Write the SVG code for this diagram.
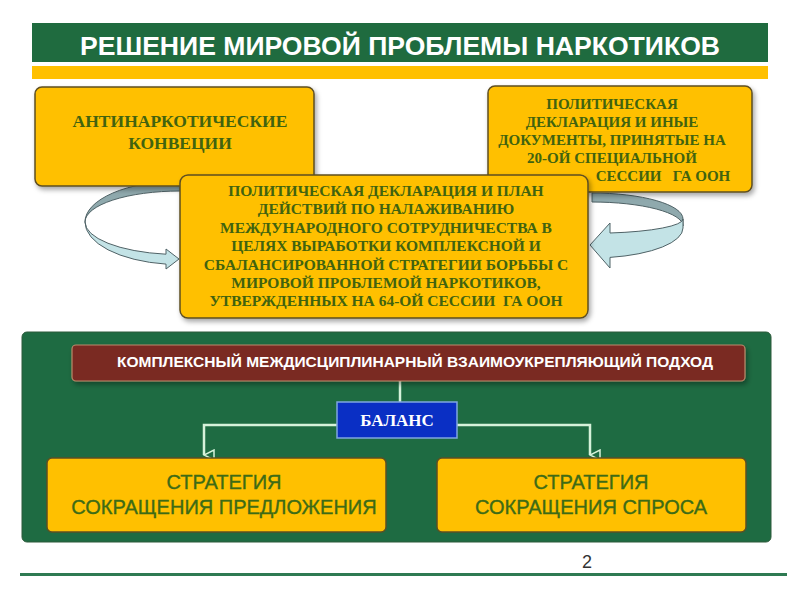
<svg xmlns="http://www.w3.org/2000/svg" width="800" height="600" viewBox="0 0 800 600">
<defs>
<style>
.box{fill:#FFC000;stroke:#5e4f22;stroke-width:1.5}
.serif{font-family:"Liberation Serif","DejaVu Serif",serif;font-weight:bold;fill:#41630f;text-anchor:middle}
.sans{font-family:"Liberation Sans",Arial,sans-serif;text-anchor:middle}
.strat{font-size:20px;fill:#3d6b16;stroke:#3d6b16;stroke-width:0.35}
.conn{fill:none;stroke:#d6f2da;stroke-width:2.5}
.back{fill:#8fa9ad;stroke:#4f6266;stroke-width:1}
.front{fill:#c3e3e6;stroke:#4f6266;stroke-width:1}
</style>
<filter id="sh" x="-10%" y="-10%" width="130%" height="140%">
<feDropShadow dx="2" dy="3" stdDeviation="2.5" flood-color="#000" flood-opacity="0.35"/>
</filter>
<marker id="ah" viewBox="0 0 12 12" refX="6" refY="11" markerWidth="12" markerHeight="12" markerUnits="userSpaceOnUse" orient="auto-start-reverse">
<path d="M1,1 L11,1 L6,11 Z" fill="#1e6b42" stroke="#d6f2da" stroke-width="1.5"/>
</marker>
</defs>
<rect width="800" height="600" fill="#ffffff"/>
<g id="header">
<rect x="32" y="23" width="736" height="39" fill="#1f6b3f"/>
<rect x="32" y="66" width="736" height="13" fill="#FFC000"/>
<text x="400" y="55" class="sans" font-size="26" font-weight="bold" fill="#ffffff" textLength="640" lengthAdjust="spacingAndGlyphs">РЕШЕНИЕ МИРОВОЙ ПРОБЛЕМЫ НАРКОТИКОВ</text>
</g>
<g id="cycle-arrows">
<path class="back" d="M180,181 A95,41 0 0 0 85,222 A95,31 0 0 1 180,191 Z"/>
<path class="front" d="M85,222 A95,42.5 0 0 0 166,264.1 L166,269 L179,259 L166,249 L166,254.2 A95,32.5 0 0 1 85,222 Z"/>
<path class="back" d="M592,193 A91,26 0 0 1 683,219 L683,226 A91,24 0 0 0 592,202 Z"/>
<path class="front" d="M683,228 A91,30 0 0 1 610,257.4 L610,268 L590,245 L610,223 L610,233 A91,14.3 0 0 0 683,219 Z"/>
</g>
<g id="node-conventions">
<rect x="35" y="87" width="279" height="99" rx="7" class="box" filter="url(#sh)"/>
<text class="serif" font-size="17.5"><tspan x="180" y="127">АНТИНАРКОТИЧЕСКИЕ</tspan><tspan x="180" y="149">КОНВЕЦИИ</tspan></text>
</g>
<g id="node-declaration20">
<rect x="488" y="86" width="264" height="106" rx="7" class="box" filter="url(#sh)"/>
<text class="serif" font-size="15"><tspan x="612" y="109">ПОЛИТИЧЕСКАЯ</tspan><tspan x="612" y="127">ДЕКЛАРАЦИЯ И ИНЫЕ</tspan><tspan x="612" y="145">ДОКУМЕНТЫ, ПРИНЯТЫЕ НА</tspan><tspan x="612" y="163">20-ОЙ СПЕЦИАЛЬНОЙ</tspan><tspan x="663" y="181" xml:space="preserve">СЕССИИ   ГА ООН</tspan></text>
</g>
<g id="node-declaration64">
<rect x="180" y="175" width="408" height="143" rx="8" class="box" filter="url(#sh)"/>
<text class="serif" font-size="15.5"><tspan x="386" y="196">ПОЛИТИЧЕСКАЯ ДЕКЛАРАЦИЯ И ПЛАН</tspan><tspan x="386" y="214">ДЕЙСТВИЙ ПО НАЛАЖИВАНИЮ</tspan><tspan x="386" y="233">МЕЖДУНАРОДНОГО СОТРУДНИЧЕСТВА В</tspan><tspan x="386" y="251">ЦЕЛЯХ ВЫРАБОТКИ КОМПЛЕКСНОЙ И</tspan><tspan x="386" y="270">СБАЛАНСИРОВАННОЙ СТРАТЕГИИ БОРЬБЫ С</tspan><tspan x="386" y="288">МИРОВОЙ ПРОБЛЕМОЙ НАРКОТИКОВ,</tspan><tspan x="386" y="306" xml:space="preserve">УТВЕРЖДЕННЫХ НА 64-ОЙ СЕССИИ  ГА ООН</tspan></text>
</g>
<g id="panel">
<rect x="22" y="332" width="749" height="210" rx="5" fill="#1e6b42" stroke="#2c5a3a" stroke-width="1"/>
</g>
<g id="connectors">
<path class="conn" d="M400,381 V402"/>
<path class="conn" d="M337,425 H204 V455" marker-end="url(#ah)"/>
<path class="conn" d="M457,425 H590 V455" marker-end="url(#ah)"/>
</g>
<g id="node-approach">
<rect x="72" y="345" width="673" height="36" rx="4" fill="#7a2a22" stroke="#b98a6a" stroke-width="1.2" filter="url(#sh)"/>
<text x="415" y="367" class="sans" font-size="15" font-weight="bold" fill="#ffffff" textLength="596" lengthAdjust="spacingAndGlyphs">КОМПЛЕКСНЫЙ МЕЖДИСЦИПЛИНАРНЫЙ ВЗАИМОУКРЕПЛЯЮЩИЙ ПОДХОД</text>
</g>
<g id="node-balance">
<rect x="337" y="402" width="120" height="36" fill="#0a2fc4" stroke="#7fa6e0" stroke-width="1.5"/>
<text x="397" y="426" class="serif" font-size="17" style="fill:#ffffff">БАЛАНС</text>
</g>
<g id="node-supply">
<rect x="47" y="458" width="339" height="74" rx="5" class="box" stroke="#3a3010"/>
<text class="sans strat"><tspan x="224" y="489">СТРАТЕГИЯ</tspan><tspan x="224" y="514">СОКРАЩЕНИЯ ПРЕДЛОЖЕНИЯ</tspan></text>
</g>
<g id="node-demand">
<rect x="437" y="458" width="309" height="74" rx="5" class="box"/>
<text class="sans strat"><tspan x="591" y="489">СТРАТЕГИЯ</tspan><tspan x="591" y="514">СОКРАЩЕНИЯ СПРОСА</tspan></text>
</g>
<g id="footer">
<text x="587" y="568" font-family="Liberation Sans, Arial, sans-serif" font-size="18" fill="#333333" text-anchor="middle">2</text>
<rect x="20" y="573" width="767" height="3" fill="#2e7a52"/>
</g>
</svg>
